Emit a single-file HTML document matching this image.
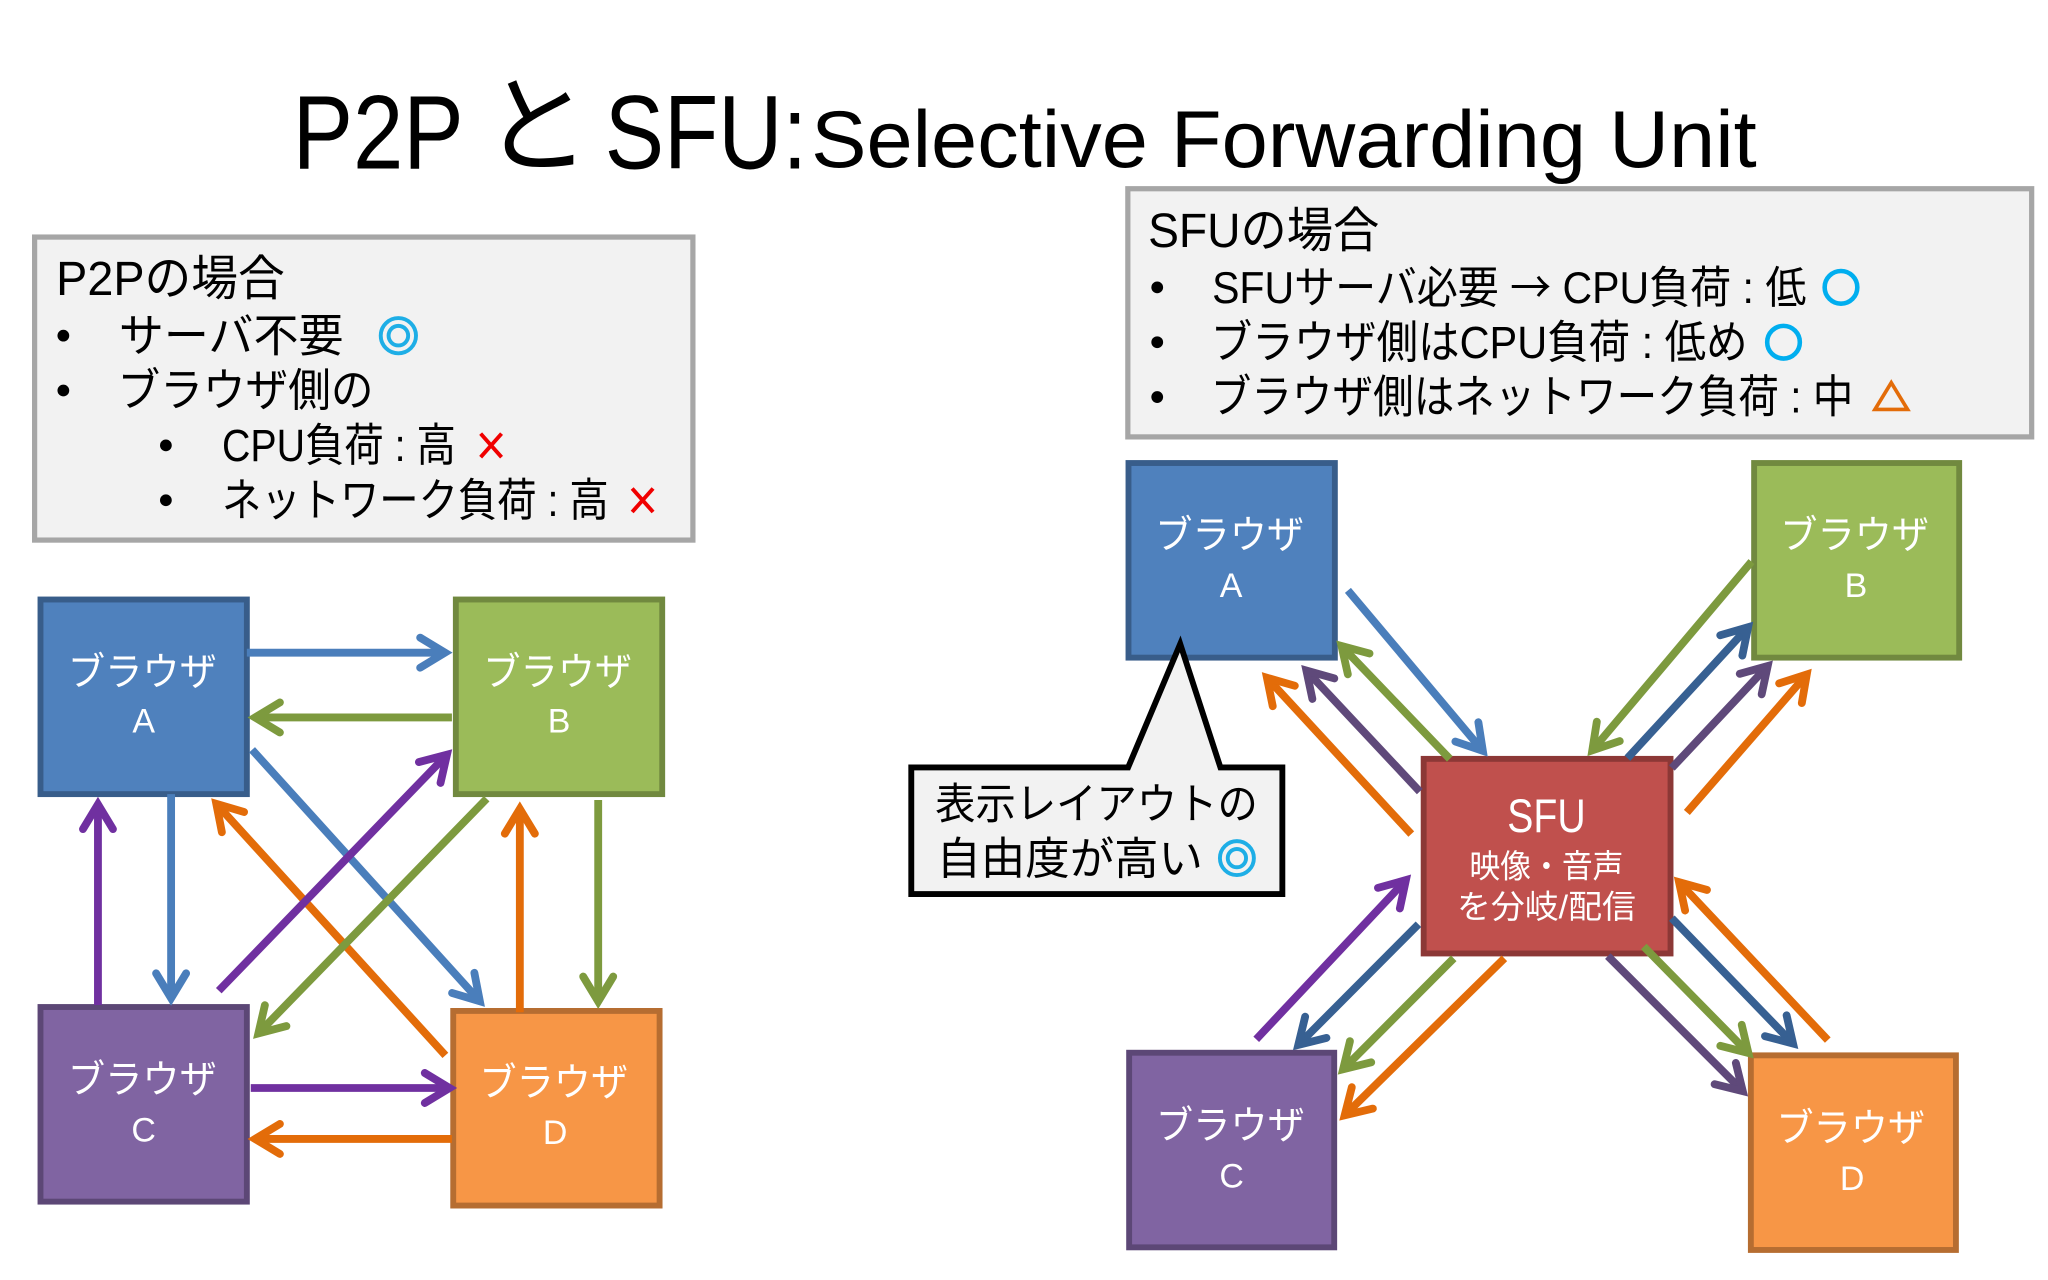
<!DOCTYPE html>
<html lang="ja">
<head>
<meta charset="utf-8">
<title>P2P と SFU</title>
<style>
html,body{margin:0;padding:0;background:#fff;}
svg{display:block;}
text{font-family:"Liberation Sans","Noto Sans CJK JP",sans-serif;fill:#000;}
.w{fill:#fff;text-anchor:middle;}
.box{stroke-width:4.5;}
line{stroke-width:6;fill:none;}
.b{stroke:#4a7ebb;marker-end:url(#mb);}
.g{stroke:#7d9a3e;marker-end:url(#mg);}
.p{stroke:#7030a0;marker-end:url(#mp);}
.o{stroke:#e36c09;marker-end:url(#mo);}
.db{stroke:#376092;marker-end:url(#mdb);}
.dp{stroke:#5f497a;marker-end:url(#mdp);}
</style>
</head>
<body>
<svg xmlns="http://www.w3.org/2000/svg" width="2048" height="1280" viewBox="0 0 1568 980">
<defs>
<marker id="mb" markerUnits="userSpaceOnUse" orient="auto" overflow="visible" markerWidth="40" markerHeight="40" refX="0" refY="0"><path d="M-19,-11.5L0,0L-19,11.5" fill="none" stroke="#4a7ebb" stroke-width="6" stroke-linecap="round" stroke-linejoin="miter"/></marker>
<marker id="mg" markerUnits="userSpaceOnUse" orient="auto" overflow="visible" markerWidth="40" markerHeight="40" refX="0" refY="0"><path d="M-19,-11.5L0,0L-19,11.5" fill="none" stroke="#7d9a3e" stroke-width="6" stroke-linecap="round" stroke-linejoin="miter"/></marker>
<marker id="mp" markerUnits="userSpaceOnUse" orient="auto" overflow="visible" markerWidth="40" markerHeight="40" refX="0" refY="0"><path d="M-19,-11.5L0,0L-19,11.5" fill="none" stroke="#7030a0" stroke-width="6" stroke-linecap="round" stroke-linejoin="miter"/></marker>
<marker id="mo" markerUnits="userSpaceOnUse" orient="auto" overflow="visible" markerWidth="40" markerHeight="40" refX="0" refY="0"><path d="M-19,-11.5L0,0L-19,11.5" fill="none" stroke="#e36c09" stroke-width="6" stroke-linecap="round" stroke-linejoin="miter"/></marker>
<marker id="mdb" markerUnits="userSpaceOnUse" orient="auto" overflow="visible" markerWidth="40" markerHeight="40" refX="0" refY="0"><path d="M-19,-11.5L0,0L-19,11.5" fill="none" stroke="#376092" stroke-width="6" stroke-linecap="round" stroke-linejoin="miter"/></marker>
<marker id="mdp" markerUnits="userSpaceOnUse" orient="auto" overflow="visible" markerWidth="40" markerHeight="40" refX="0" refY="0"><path d="M-19,-11.5L0,0L-19,11.5" fill="none" stroke="#5f497a" stroke-width="6" stroke-linecap="round" stroke-linejoin="miter"/></marker>
</defs>

<rect x="0" y="0" width="1568" height="980" fill="#fff"/>

<!-- Title -->
<text x="224" y="129" font-size="80" textLength="131" lengthAdjust="spacingAndGlyphs">P2P</text>
<text x="370" y="125" font-size="82">と</text>
<text x="463" y="129" font-size="80" textLength="155" lengthAdjust="spacingAndGlyphs">SFU:</text>
<text x="621" y="128" font-size="62" textLength="724" lengthAdjust="spacingAndGlyphs">Selective Forwarding Unit</text>

<!-- P2P panel -->
<rect x="26.5" y="181.5" width="504" height="232" fill="#f2f2f2" stroke="#a6a6a6" stroke-width="4"/>
<text x="43" y="226" font-size="37" textLength="175" lengthAdjust="spacingAndGlyphs">P2Pの場合</text>
<circle cx="48.5" cy="257" r="4.5"/>
<text x="91" y="269" font-size="35" textLength="172" lengthAdjust="spacingAndGlyphs">サーバ不要</text>
<circle cx="305" cy="257" r="13.5" fill="none" stroke="#1eaee6" stroke-width="3"/>
<circle cx="305" cy="257" r="7.5" fill="none" stroke="#1eaee6" stroke-width="3"/>
<circle cx="48.5" cy="299" r="4.5"/>
<text x="90" y="311" font-size="35" textLength="196" lengthAdjust="spacingAndGlyphs">ブラウザ側の</text>
<circle cx="127" cy="341" r="4.5"/>
<text x="170" y="353" font-size="35" textLength="179" lengthAdjust="spacingAndGlyphs">CPU負荷 : 高</text>
<path d="M368,332L384,350M384,332L368,350" stroke="#f00000" stroke-width="3" fill="none"/>
<circle cx="127" cy="383" r="4.5"/>
<text x="170" y="395" font-size="35" textLength="296" lengthAdjust="spacingAndGlyphs">ネットワーク負荷 : 高</text>
<path d="M484,374L500,392M500,374L484,392" stroke="#f00000" stroke-width="3" fill="none"/>

<!-- SFU panel -->
<rect x="863.5" y="144.5" width="692" height="190" fill="#f2f2f2" stroke="#a6a6a6" stroke-width="4"/>
<text x="879" y="189" font-size="37" textLength="177" lengthAdjust="spacingAndGlyphs">SFUの場合</text>
<circle cx="886" cy="220" r="4.5"/>
<text x="928" y="232" font-size="34" textLength="455" lengthAdjust="spacingAndGlyphs">SFUサーバ必要 <tspan font-family="'Noto Sans CJK JP',sans-serif">→</tspan> CPU負荷 : 低</text>
<circle cx="1409.5" cy="220" r="12.5" fill="none" stroke="#00aeef" stroke-width="3.5"/>
<circle cx="886" cy="262" r="4.5"/>
<text x="927" y="274" font-size="35" textLength="411" lengthAdjust="spacingAndGlyphs">ブラウザ側はCPU負荷 : 低め</text>
<circle cx="1365.5" cy="262" r="12.5" fill="none" stroke="#00aeef" stroke-width="3.5"/>
<circle cx="886" cy="304" r="4.5"/>
<text x="927" y="316" font-size="35" textLength="492" lengthAdjust="spacingAndGlyphs">ブラウザ側はネットワーク負荷 : 中</text>
<path d="M1448,293L1460.5,313.5L1435.5,313.5Z" fill="none" stroke="#e36c09" stroke-width="2.8"/>

<!-- P2P nodes -->
<rect class="box" x="31" y="459" width="158" height="149" fill="#4f81bd" stroke="#385d8a"/>
<rect class="box" x="349" y="459" width="158" height="149" fill="#9bbb59" stroke="#71893f"/>
<rect class="box" x="31" y="771" width="158" height="149" fill="#8064a2" stroke="#5c4776"/>
<rect class="box" x="347" y="774" width="158" height="149" fill="#f79646" stroke="#b66d31"/>

<text class="w" x="109" y="525" font-size="30" textLength="114" lengthAdjust="spacingAndGlyphs">ブラウザ</text>
<text class="w" x="110" y="561" font-size="26">A</text>
<text class="w" x="427" y="525" font-size="30" textLength="114" lengthAdjust="spacingAndGlyphs">ブラウザ</text>
<text class="w" x="428" y="561" font-size="26">B</text>
<text class="w" x="109" y="837" font-size="30" textLength="114" lengthAdjust="spacingAndGlyphs">ブラウザ</text>
<text class="w" x="110" y="874" font-size="26">C</text>
<text class="w" x="424" y="839" font-size="30" textLength="114" lengthAdjust="spacingAndGlyphs">ブラウザ</text>
<text class="w" x="425" y="876" font-size="26">D</text>

<!-- P2P arrows -->
<line class="b" x1="189" y1="499.7" x2="340.7" y2="499.7"/>
<line class="g" x1="346" y1="549.3" x2="195.3" y2="549.3"/>
<line class="b" x1="193" y1="574" x2="367.4" y2="766.6"/>
<line class="o" x1="341" y1="808" x2="165.6" y2="615.4"/>
<line class="p" x1="167.5" y1="758.5" x2="342.2" y2="577.8"/>
<line class="g" x1="372.6" y1="611.5" x2="197.8" y2="791.2"/>
<line class="b" x1="131" y1="608" x2="131" y2="764.2"/>
<line class="p" x1="75" y1="769.5" x2="75" y2="615.8"/>
<line class="o" x1="398" y1="775" x2="398" y2="619.3"/>
<line class="g" x1="458" y1="612.5" x2="458" y2="766.7"/>
<line class="p" x1="192" y1="833" x2="344.2" y2="833"/>
<line class="o" x1="346" y1="872" x2="195.3" y2="872"/>

<!-- SFU nodes -->
<rect class="box" x="864" y="354.5" width="158" height="149" fill="#4f81bd" stroke="#385d8a"/>
<rect class="box" x="1343" y="354.5" width="157" height="149" fill="#9bbb59" stroke="#71893f"/>
<rect class="box" x="864.5" y="806" width="157" height="149" fill="#8064a2" stroke="#5c4776"/>
<rect class="box" x="1340.5" y="808" width="157" height="149" fill="#f79646" stroke="#b66d31"/>
<rect class="box" x="1090" y="581" width="189" height="149" fill="#c0504d" stroke="#8c3836"/>

<text class="w" x="941.5" y="420" font-size="30" textLength="114" lengthAdjust="spacingAndGlyphs">ブラウザ</text>
<text class="w" x="942.5" y="457" font-size="26">A</text>
<text class="w" x="1420" y="420" font-size="30" textLength="114" lengthAdjust="spacingAndGlyphs">ブラウザ</text>
<text class="w" x="1421" y="457" font-size="26">B</text>
<text class="w" x="942" y="872" font-size="30" textLength="114" lengthAdjust="spacingAndGlyphs">ブラウザ</text>
<text class="w" x="943" y="909" font-size="26">C</text>
<text class="w" x="1417" y="874" font-size="30" textLength="114" lengthAdjust="spacingAndGlyphs">ブラウザ</text>
<text class="w" x="1418" y="911" font-size="26">D</text>

<text class="w" x="1184" y="637" font-size="36" textLength="60" lengthAdjust="spacingAndGlyphs">SFU</text>
<text class="w" x="1184" y="672" font-size="25" textLength="118" lengthAdjust="spacingAndGlyphs">映像・音声</text>
<text class="w" x="1184" y="703" font-size="25" textLength="137" lengthAdjust="spacingAndGlyphs">を分岐/配信</text>

<!-- SFU arrows -->
<line class="b" x1="1032" y1="452" x2="1135.3" y2="574.9"/>
<line class="g" x1="1110" y1="581" x2="1027.1" y2="494.6"/>
<line class="dp" x1="1087" y1="606" x2="1000.2" y2="513.4"/>
<line class="o" x1="1080.5" y1="638.6" x2="970" y2="518.9"/>
<line class="g" x1="1341" y1="430" x2="1219.1" y2="574.5"/>
<line class="db" x1="1246" y1="580.5" x2="1338.4" y2="480.2"/>
<line class="dp" x1="1280" y1="588" x2="1353.4" y2="509.9"/>
<line class="o" x1="1291.5" y1="622" x2="1383.3" y2="516.4"/>
<line class="p" x1="961.8" y1="795.7" x2="1076.4" y2="673.8"/>
<line class="db" x1="1086" y1="707.6" x2="994" y2="800"/>
<line class="g" x1="1113" y1="733.7" x2="1028.3" y2="818.7"/>
<line class="o" x1="1151.8" y1="733.7" x2="1029.5" y2="853.9"/>
<line class="dp" x1="1231" y1="732" x2="1334.3" y2="835.4"/>
<line class="g" x1="1258.5" y1="724.7" x2="1338.6" y2="806.2"/>
<line class="db" x1="1280" y1="703" x2="1372.8" y2="799"/>
<line class="o" x1="1399.4" y1="796.3" x2="1285.5" y2="675.4"/>

<!-- Callout -->
<path d="M697.7,587.6L863.7,587.6L903.6,493L934.4,587.6L981.8,587.6L981.8,684.5L697.7,684.5Z" fill="#f2f2f2" stroke="#000" stroke-width="4.5"/>
<text x="716" y="627" font-size="33" textLength="247" lengthAdjust="spacingAndGlyphs">表示レイアウトの</text>
<text x="717" y="669" font-size="34" textLength="204" lengthAdjust="spacingAndGlyphs">自由度が高い</text>
<circle cx="947" cy="657" r="13" fill="none" stroke="#1eaee6" stroke-width="3"/>
<circle cx="947" cy="657" r="7" fill="none" stroke="#1eaee6" stroke-width="3"/>
</svg>
</body>
</html>
